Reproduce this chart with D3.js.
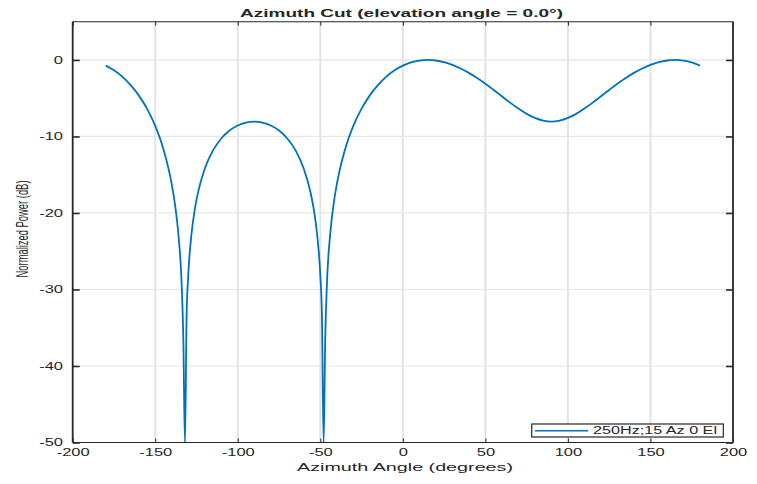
<!DOCTYPE html>
<html>
<head>
<meta charset="utf-8">
<script src="https://cdn.jsdelivr.net/npm/d3@7"></script>
<style>
  body { margin: 0; background: #fff; }
  text { font-family: "Liberation Sans", Arial, Helvetica, sans-serif; fill: #262626; }
</style>
</head>
<body>
<div id="chart"></div>
<script>
let w = 757;
let h = 484;
let margin = {top: 21.7, right: 24, bottom: 41.5, left: 72.7};

// azimuth samples (deg) and normalized power (dB)
let azimuth = [-180, -175, -170, -165, -160, -155, -150, -145, -140, -138, -136, -134, -133, -132, -131, -130,
    -128, -126, -124, -120, -115, -110, -105, -100, -95, -90, -85, -80, -75, -70, -65, -60, -56, -54, -52,
    -50, -49, -48, -47, -46, -44, -42, -40, -35, -30, -25, -20, -15, -10, -5, 0, 5, 10, 15, 20, 25, 30,
    35, 40, 45, 50, 55, 60, 65, 70, 75, 80, 85, 90, 95, 100, 105, 110, 115, 120, 125, 130, 135, 140, 145,
    150, 155, 160, 165, 170, 175, 180];
let power = [-0.74, -1.35, -2.18, -3.26, -4.63, -6.37, -8.62, -11.69, -16.25, -18.94, -22.73, -29.3, -36.23, -50.2, -33.45, -28.16,
    -22.67, -19.47, -17.24, -14.21, -11.82, -10.26, -9.22, -8.56, -8.19, -8.06, -8.19, -8.56, -9.22, -10.26, -11.82, -14.21, -17.24, -19.47, -22.67,
    -28.16, -33.45, -50.2, -36.23, -29.3, -22.73, -18.94, -16.25, -11.69, -8.62, -6.37, -4.63, -3.26, -2.18, -1.35, -0.74, -0.32, -0.08, 0, -0.07, -0.29, -0.64,
    -1.11, -1.69, -2.36, -3.11, -3.92, -4.75, -5.58, -6.36, -7.05, -7.58, -7.93, -8.05, -7.93, -7.58, -7.05, -6.36, -5.58, -4.75, -3.92, -3.11, -2.36, -1.69, -1.11,
    -0.64, -0.29, -0.07, 0, -0.08, -0.32, -0.74];

let xTicks = [-200, -150, -100, -50, 0, 50, 100, 150, 200];
let yTicks = [-50, -40, -30, -20, -10, 0];
let xLimits = [-200, 200];
let yLimits = [-50, 5];
let seriesName = '250Hz;15 Az 0 El';

// the source picture is stretched sideways, so text is too
let sx = 1.65;

let data = azimuth.map((a, i) => ({az: a, p: power[i]}));

let svg = d3.select('#chart')
    .append('svg')
    .attr('width', w)
    .attr('height', h);

let x0 = margin.left, x1 = w - margin.right;
let y0 = margin.top, y1 = h - margin.bottom;

let xScale = d3.scaleLinear().domain(xLimits).range([x0, x1]);
let yScale = d3.scaleLinear().domain(yLimits).range([y1, y0]);

// grid
svg.append('g')
    .selectAll('line')
    .data(xTicks.slice(1, -1))
    .enter()
    .append('line')
    .attr('x1', d => xScale(d)).attr('x2', d => xScale(d))
    .attr('y1', y0).attr('y2', y1)
    .attr('stroke', '#e3e3e3')
    .attr('stroke-width', 2);

svg.append('g')
    .selectAll('line')
    .data(yTicks.slice(1))
    .enter()
    .append('line')
    .attr('x1', x0).attr('x2', x1)
    .attr('y1', d => yScale(d)).attr('y2', d => yScale(d))
    .attr('stroke', '#e6e6e6')
    .attr('stroke-width', 1.2);

// curve
svg.append('clipPath')
    .attr('id', 'clip')
    .append('rect')
    .attr('x', x0).attr('y', y0)
    .attr('width', x1 - x0).attr('height', y1 - y0);

svg.append('path')
    .datum(data)
    .attr('clip-path', 'url(#clip)')
    .attr('d', d3.line()
        .x(d => xScale(d.az))
        .y(d => yScale(d.p))
        .curve(d3.curveMonotoneX))
    .attr('stroke', '#0072BD')
    .style('stroke-width', 1.8)
    .style('fill', 'none');

// axes, ticks pointing inward like matlab
const styleAxis = (g, vertical) => {
    g.select('.domain').remove();
    g.selectAll('.tick line').attr('stroke', '#262626').attr('stroke-width', vertical ? 1 : 1.6);
};
const plain = d => String(d);  // keep ascii hyphen for negatives

let xAxis = svg.append('g')
    .attr('transform', 'translate(0,' + y1 + ')')
    .call(d3.axisBottom(xScale).tickValues(xTicks).tickSizeInner(-4).tickSizeOuter(0).tickFormat(plain));
styleAxis(xAxis, true);
xAxis.selectAll('.tick text')
    .attr('y', 14).attr('dy', 0)
    .attr('transform', 'scale(' + sx + ',1)')
    .style('font-size', '10px')
    .attr('fill', '#333');

let xTop = svg.append('g')
    .attr('transform', 'translate(0,' + y0 + ')')
    .call(d3.axisTop(xScale).tickValues(xTicks).tickSizeInner(-4).tickSizeOuter(0).tickFormat(''));
styleAxis(xTop, true);

let yAxis = svg.append('g')
    .attr('transform', 'translate(' + x0 + ',0)')
    .call(d3.axisLeft(yScale).tickValues(yTicks).tickSizeInner(-7).tickSizeOuter(0).tickFormat(plain));
styleAxis(yAxis, false);
yAxis.selectAll('.tick text')
    .attr('x', -9.7 / sx).attr('dy', '0.34em')
    .attr('transform', 'scale(' + sx + ',1)')
    .style('font-size', '10px')
    .attr('fill', '#333');

let yRight = svg.append('g')
    .attr('transform', 'translate(' + x1 + ',0)')
    .call(d3.axisRight(yScale).tickValues(yTicks).tickSizeInner(-7).tickSizeOuter(0).tickFormat(''));
styleAxis(yRight, false);

// box
svg.append('line').attr('x1', x0).attr('x2', x1).attr('y1', y1).attr('y2', y1)
    .attr('stroke', '#262626').attr('stroke-width', 1.1);
svg.append('line').attr('x1', x0).attr('x2', x1).attr('y1', y0).attr('y2', y0)
    .attr('stroke', '#262626').attr('stroke-width', 1.1);
svg.append('line').attr('x1', x0).attr('x2', x0).attr('y1', y0).attr('y2', y1)
    .attr('stroke', '#262626').attr('stroke-width', 1.8);
svg.append('line').attr('x1', x1).attr('x2', x1).attr('y1', y0).attr('y2', y1)
    .attr('stroke', '#262626').attr('stroke-width', 1.8);

// labels
svg.append('text')
    .attr('x', 401.5).attr('y', 17)
    .attr('text-anchor', 'middle')
    .attr('textLength', 323).attr('lengthAdjust', 'spacingAndGlyphs')
    .style('font-size', '11.5px')
    .style('font-weight', 'bold')
    .attr('fill', '#000')
    .text('Azimuth Cut (elevation angle = 0.0°)');

svg.append('text')
    .attr('x', 405).attr('y', 470.5)
    .attr('text-anchor', 'middle')
    .attr('textLength', 216).attr('lengthAdjust', 'spacingAndGlyphs')
    .style('font-size', '11px')
    .text('Azimuth Angle (degrees)');

svg.append('text')
    .attr('transform', 'translate(27.5,229) scale(' + sx + ',1) rotate(-90)')
    .attr('text-anchor', 'middle')
    .attr('textLength', 97).attr('lengthAdjust', 'spacingAndGlyphs')
    .style('font-size', '10px')
    .text('Normalized Power (dB)');

// legend
let legend = svg.append('g');
legend.append('rect')
    .attr('x', 531.7).attr('y', 424)
    .attr('width', 191.6).attr('height', 13)
    .attr('fill', '#fff')
    .attr('stroke', '#262626')
    .attr('stroke-width', 1.2);
legend.append('line')
    .attr('x1', 535).attr('x2', 588)
    .attr('y1', 430.7).attr('y2', 430.7)
    .attr('stroke', '#0072BD')
    .attr('stroke-width', 1.5);
legend.append('text')
    .attr('x', 593).attr('y', 434.3)
    .attr('textLength', 124).attr('lengthAdjust', 'spacingAndGlyphs')
    .style('font-size', '10px')
    .text(seriesName);
</script>
</body>
</html>
